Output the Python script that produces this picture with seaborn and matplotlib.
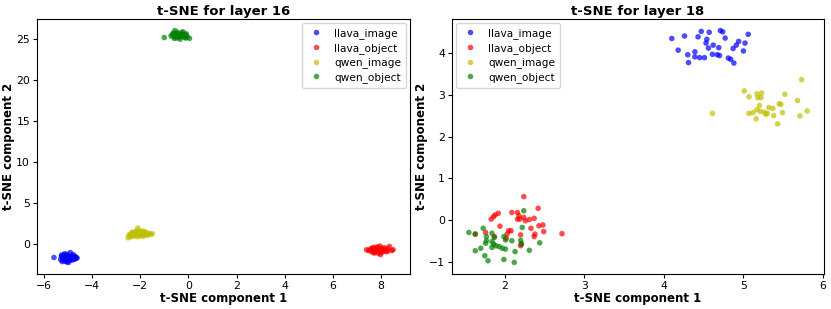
import matplotlib
matplotlib.use("Agg")
import matplotlib.pyplot as plt
import seaborn as sns
import pandas as pd

labels = ["llava_image", "llava_object", "qwen_image", "qwen_object"]
colors = {"llava_image": "blue", "llava_object": "red", "qwen_image": "y", "qwen_object": "green"}

# ---- layer 16 ----
l16_llava_image_x = [-5.58, -5.30, -5.27, -5.24, -5.22, -5.18, -5.15, -5.12, -5.10, -5.05, -5.02, -5.00,
                     -4.98, -4.95, -4.92, -4.90, -4.88, -4.85, -4.82, -4.80, -4.78, -4.75, -4.72, -4.70,
                     -4.68, -4.65, -5.26, -5.20, -5.08, -4.86, -4.76, -5.14, -4.62, -4.97, -5.04]
l16_llava_image_y = [-1.70, -1.95, -1.55, -2.20, -1.75, -1.40, -2.10, -1.60, -1.85, -2.25, -1.45, -1.70,
                     -1.95, -1.55, -2.05, -1.10, -1.80, -1.50, -1.65, -2.00, -1.35, -1.75, -1.90, -1.55,
                     -1.70, -1.80, -1.40, -1.85, -2.15, -1.95, -1.60, -1.25, -1.75, -2.30, -1.30]
l16_llava_object_x = [7.40, 7.48, 7.55, 7.60, 7.65, 7.68, 7.72, 7.75, 7.78, 7.80, 7.84, 7.88, 7.90, 7.93,
                      7.96, 8.00, 8.03, 8.06, 8.10, 8.14, 8.18, 8.22, 8.28, 8.35, 8.45, 8.50, 7.70,
                      7.86, 7.98, 8.08, 7.62, 7.92, 8.02, 8.30]
l16_llava_object_y = [-0.75, -0.85, -0.70, -1.00, -0.60, -0.90, -0.45, -1.10, -0.75, -0.95, -0.55, -0.80,
                      -1.20, -0.65, -0.30, -0.85, -1.05, -0.70, -0.95, -0.50, -0.80, -1.00, -0.60, -0.35,
                      -0.85, -0.75, -1.15, -0.40, -1.35, -0.65, -0.55, -0.95, -0.60, -0.90]
l16_qwen_image_x = [-2.50, -2.47, -2.42, -2.38, -2.35, -2.30, -2.27, -2.24, -2.20, -2.17, -2.14, -2.10,
                    -2.08, -2.05, -2.02, -1.98, -1.95, -1.92, -1.88, -1.84, -1.80, -1.76, -1.72, -1.68,
                    -1.62, -1.55, -1.50, -2.12, -2.00, -1.90, -2.33, -1.85]
l16_qwen_image_y = [0.70, 1.05, 0.90, 1.20, 0.85, 1.10, 1.35, 0.95, 1.25, 1.50, 1.05, 1.90, 1.60,
                    1.30, 0.95, 1.45, 1.15, 1.35, 0.90, 1.25, 1.45, 1.10, 1.30, 1.00, 1.25, 1.15,
                    1.20, 0.85, 1.05, 1.55, 1.40, 1.00]
l16_qwen_object_x = [-1.00, -0.72, -0.66, -0.60, -0.56, -0.52, -0.48, -0.44, -0.40, -0.36, -0.32, -0.28,
                     -0.24, -0.20, -0.16, -0.12, -0.08, -0.04, 0.05, -0.58, -0.46, -0.34, -0.22,
                     -0.14, -0.62, -0.30, -0.50, -0.10]
l16_qwen_object_y = [25.20, 25.40, 25.60, 25.30, 26.05, 25.50, 25.15, 25.70, 25.40, 25.25, 25.55, 25.80,
                     25.35, 25.60, 25.20, 25.45, 25.65, 25.30, 25.10, 25.10, 25.85, 25.00, 25.90,
                     25.55, 25.75, 25.40, 25.35, 25.15]

# ---- layer 18 ----
l18_llava_image_x = [4.10, 4.26, 4.18, 4.30, 4.31, 4.39, 4.39, 4.45, 4.51, 4.43, 4.47, 4.57, 4.54, 4.53,
                     4.56, 4.62, 4.69, 4.61, 4.67, 4.70, 4.71, 4.74, 4.77, 4.81, 4.84, 4.88, 4.87,
                     4.91, 4.94, 5.02, 5.00, 5.06]
l18_llava_image_y = [4.36, 4.42, 4.08, 3.97, 3.78, 4.04, 3.92, 3.90, 3.90, 4.40, 4.53, 4.51, 4.34, 4.25,
                     4.13, 4.20, 4.14, 3.98, 3.97, 3.95, 4.55, 4.52, 4.37, 3.89, 3.86, 3.77, 4.12,
                     4.20, 4.29, 4.25, 4.06, 4.46]
l18_llava_object_x = [2.24, 2.42, 2.09, 2.16, 2.18, 1.92, 1.88, 1.86, 1.83, 2.24, 2.19, 2.26, 2.31, 2.37,
                      2.16, 1.94, 2.33, 2.43, 2.48, 2.49, 2.05, 2.08, 2.03, 2.38, 2.37, 2.20, 2.72,
                      1.63, 1.76, 1.87, 2.20, 2.02, 2.21]
l18_llava_object_y = [0.56, 0.28, 0.18, 0.18, 0.10, 0.16, 0.12, 0.08, 0.02, 0.06, 0.02, -0.02, 0.01, 0.04,
                      0.02, -0.15, -0.20, -0.14, -0.12, -0.28, -0.26, -0.26, -0.34, -0.34, -0.40, -0.36,
                      -0.33, -0.34, -0.30, -0.40, -0.62, -0.44, -0.57]
l18_qwen_image_x = [4.61, 5.01, 5.07, 5.17, 5.23, 5.18, 5.22, 5.20, 5.07, 5.12, 5.17, 5.21, 5.26, 5.28,
                    5.30, 5.16, 5.32, 5.37, 5.38, 5.43, 5.45, 5.47, 5.49, 5.52, 5.68, 5.71, 5.73, 5.80]
l18_qwen_image_y = [2.56, 3.10, 2.96, 3.03, 3.05, 2.94, 2.94, 2.75, 2.56, 2.58, 2.65, 2.61, 2.59, 2.54,
                    2.56, 2.43, 2.70, 2.68, 2.51, 2.31, 2.79, 2.78, 2.58, 3.02, 2.87, 2.50, 3.37, 2.62]
l18_qwen_object_x = [2.24, 1.55, 1.63, 1.73, 1.77, 1.84, 1.87, 1.77, 1.84, 1.99, 2.01, 2.09, 2.22, 2.20,
                     2.21, 1.76, 1.63, 1.70, 1.86, 1.89, 1.93, 1.97, 2.01, 1.84, 2.13, 2.31, 2.44,
                     1.75, 1.79, 1.99, 2.12]
l18_qwen_object_y = [0.22, -0.30, -0.34, -0.20, -0.40, -0.32, -0.42, -0.50, -0.52, -0.40, -0.48, -0.50,
                     -0.18, -0.49, -0.58, -0.56, -0.74, -0.68, -0.58, -0.62, -0.64, -0.68, -0.70,
                     -0.66, -0.76, -0.73, -0.55, -0.86, -0.98, -0.95, -1.02]


def frame(groups):
    rows = []
    for lab, (xs, ys) in zip(labels, groups):
        for x, y in zip(xs, ys):
            rows.append({"x": x, "y": y, "label": lab})
    return pd.DataFrame(rows)


df16 = frame([(l16_llava_image_x, l16_llava_image_y), (l16_llava_object_x, l16_llava_object_y),
              (l16_qwen_image_x, l16_qwen_image_y), (l16_qwen_object_x, l16_qwen_object_y)])
df18 = frame([(l18_llava_image_x, l18_llava_image_y), (l18_llava_object_x, l18_llava_object_y),
              (l18_qwen_image_x, l18_qwen_image_y), (l18_qwen_object_x, l18_qwen_object_y)])

plt.rcParams["font.family"] = ["DejaVu Sans"]
fig = plt.figure(figsize=(8.31, 3.09), dpi=100)
ax1 = fig.add_axes([0.0445, 0.1133, 0.4489, 0.8252])
ax2 = fig.add_axes([0.5439, 0.1133, 0.4477, 0.8252])

for ax, df, layer, loc in [(ax1, df16, 16, "upper right"), (ax2, df18, 18, "upper left")]:
    sns.scatterplot(data=df, x="x", y="y", hue="label", hue_order=labels, palette=colors,
                    s=16, alpha=0.7, edgecolor="none", ax=ax)
    ax.set_title(f"t-SNE for layer {layer}", fontsize=9.5, fontweight="bold", pad=3)
    ax.set_xlabel("t-SNE component 1", fontsize=8.5, fontweight="bold", labelpad=1)
    ax.set_ylabel("t-SNE component 2", fontsize=8.5, fontweight="bold", labelpad=0.5)
    ax.tick_params(labelsize=7.8, length=3, pad=2)
    ax.legend(loc=loc, fontsize=7.6, markerscale=1.0, handlelength=1.8, handletextpad=0.8,
              borderpad=0.45, labelspacing=0.36, borderaxespad=0.4, framealpha=0.8)

fig.savefig("out.png", dpi=100)
